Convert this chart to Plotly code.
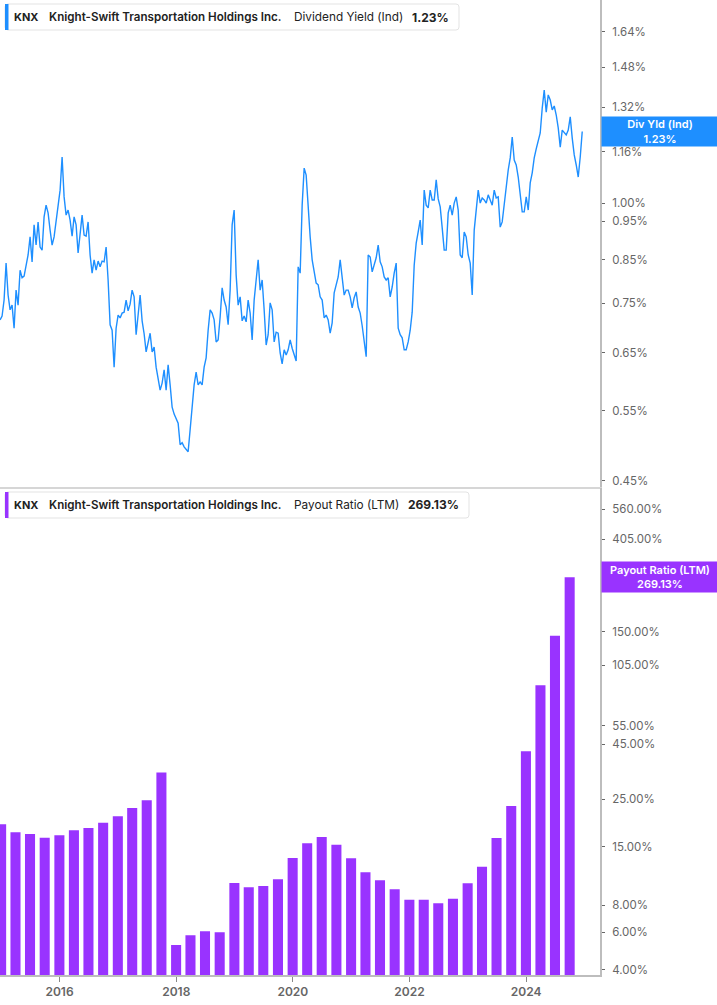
import math
import pandas as pd
import plotly.graph_objects as go

# ---------------- DATA ----------------
ticker = "KNX"
company = "Knight-Swift Transportation Holdings Inc."

# Dividend yield (%), sampled roughly every 12.5 days from late Dec 2014 to Dec 2024
yield_start = "2014-12-24 12:00"
yield_step_days = 12.53
div_yield = [
    0.715, 0.723, 0.757, 0.842, 0.768, 0.736, 0.746, 0.698, 0.779, 0.746,
    0.825, 0.807, 0.811, 0.833, 0.862, 0.908, 0.845, 0.940, 0.887, 0.948,
    0.882, 0.874, 0.962, 0.995, 0.973, 0.926, 0.887, 0.908, 0.948, 1.001,
    1.039, 1.143, 1.019, 0.967, 0.981, 0.953, 0.910, 0.962, 0.940, 0.867,
    0.918, 0.967, 0.913, 0.910, 0.948, 0.862, 0.818, 0.850, 0.825, 0.847,
    0.833, 0.847, 0.845, 0.882, 0.802, 0.705, 0.694, 0.624, 0.698, 0.725,
    0.719, 0.729, 0.731, 0.757, 0.734, 0.748, 0.779, 0.764, 0.685, 0.721,
    0.768, 0.713, 0.687, 0.652, 0.667, 0.688, 0.652, 0.661, 0.624, 0.605,
    0.584, 0.596, 0.619, 0.584, 0.628, 0.593, 0.556, 0.545, 0.539, 0.531,
    0.499, 0.502, 0.496, 0.493, 0.489, 0.521, 0.560, 0.593, 0.615, 0.593,
    0.598, 0.593, 0.624, 0.641, 0.694, 0.736, 0.729, 0.715, 0.671, 0.675,
    0.721, 0.784, 0.757, 0.742, 0.705, 0.779, 0.940, 0.981, 0.814, 0.746,
    0.764, 0.713, 0.723, 0.711, 0.757, 0.729, 0.675, 0.757, 0.802, 0.850,
    0.779, 0.802, 0.736, 0.665, 0.685, 0.751, 0.736, 0.671, 0.690, 0.688,
    0.650, 0.630, 0.656, 0.646, 0.656, 0.675, 0.659, 0.646, 0.635, 0.833,
    0.818, 0.995, 1.107, 1.085, 0.981, 0.908, 0.850, 0.825, 0.795, 0.791,
    0.764, 0.757, 0.719, 0.725, 0.715, 0.688, 0.709, 0.773, 0.793, 0.809,
    0.850, 0.809, 0.768, 0.779, 0.779, 0.764, 0.740, 0.762, 0.775, 0.742,
    0.729, 0.703, 0.675, 0.643, 0.862, 0.857, 0.821, 0.837, 0.855, 0.887,
    0.845, 0.833, 0.809, 0.802, 0.807, 0.764, 0.786, 0.818, 0.842, 0.698,
    0.685, 0.679, 0.656, 0.656, 0.671, 0.694, 0.731, 0.837, 0.892, 0.921,
    0.953, 0.887, 1.039, 0.995, 0.987, 1.039, 1.010, 1.010, 1.070, 1.013,
    0.990, 0.932, 0.874, 0.874, 0.973, 0.995, 0.967, 1.001, 1.019, 0.981,
    0.862, 0.855, 0.921, 0.908, 0.862, 0.842, 0.768, 0.926, 0.981, 1.039,
    1.001, 1.016, 1.010, 1.001, 1.025, 1.010, 0.995, 1.039, 1.016, 1.019,
    0.934, 0.948, 1.001, 1.048, 1.101, 1.140, 1.211, 1.133, 1.117, 1.079,
    1.025, 0.976, 0.976, 1.019, 0.981, 1.061, 1.092, 1.140, 1.170, 1.197,
    1.225, 1.316, 1.386, 1.301, 1.367, 1.347, 1.309, 1.324, 1.290, 1.243,
    1.176, 1.235, 1.228, 1.218, 1.235, 1.283, 1.207, 1.150, 1.117, 1.079,
    1.143, 1.230,
]

# Payout ratio (LTM, %), quarterly (quarter ends) Dec 2014 - Sep 2024
payout_start = "2014-12-31"
payout_ratio = [
    19.06, 17.5, 17.2, 16.5, 16.95, 17.9, 18.3, 19.4, 20.8, 22.7,
    24.7, 33.2, 5.23, 5.80, 6.05, 5.99, 10.16, 9.71, 9.84, 10.57,
    13.3, 15.56, 16.64, 15.33, 13.24, 11.40, 10.46, 9.50, 8.50, 8.50,
    8.18, 8.59, 10.13, 12.1, 16.46, 23.2, 41.7, 84.6, 144.0, 269.13,
]

yield_ticks = [0.45, 0.55, 0.65, 0.75, 0.85, 0.95, 1.00, 1.16, 1.32, 1.48, 1.64]
payout_ticks = [4, 6, 8, 15, 25, 45, 55, 105, 150, 405, 560]
year_ticks = [2016, 2018, 2020, 2022, 2024]

x_range = ["2014-12-24", "2025-04-08"]
yield_range = [0.4418, 1.7967]
payout_range = [3.79, 701.4]

# ---------------- STYLE ----------------
BLUE = "#1e8fff"
PURPLE = "#9933ff"
FONT = "Inter"
W, H = 717, 1005
ML, MR, MT, MB = 0, 117, 0, 30
PW, PH = W - ML - MR, H - MT - MB


def pxx(x):
    return (x - ML) / PW


def pyy(y):
    return (PH - (y - MT)) / PH


def rrect(x0, y0, x1, y1, r):
    X0, X1, Y0, Y1 = pxx(x0), pxx(x1), pyy(y0), pyy(y1)
    rx, ry = r / PW, r / PH
    return (f"M{X0+rx},{Y0} L{X1-rx},{Y0} Q{X1},{Y0} {X1},{Y0-ry} "
            f"L{X1},{Y1+ry} Q{X1},{Y1} {X1-rx},{Y1} L{X0+rx},{Y1} "
            f"Q{X0},{Y1} {X0},{Y1+ry} L{X0},{Y0-ry} Q{X0},{Y0} {X0+rx},{Y0} Z")


yield_dates = pd.date_range(yield_start, periods=len(div_yield),
                            freq=pd.Timedelta(days=yield_step_days))
payout_dates = pd.date_range(payout_start, periods=len(payout_ratio), freq="QE")

fig = go.Figure()
fig.add_trace(go.Scatter(x=yield_dates, y=div_yield, mode="lines",
                         line=dict(color=BLUE, width=1.4),
                         xaxis="x", yaxis="y", showlegend=False))
fig.add_trace(go.Bar(x=payout_dates, y=payout_ratio,
                     marker=dict(color=PURPLE, line=dict(width=0)),
                     xaxis="x2", yaxis="y2", showlegend=False))

top_dom = [pyy(487), 1.0]
bot_dom = [0.0, pyy(488)]

tickfont = dict(family=FONT, size=11.5, color="#666")

fig.update_layout(
    width=W, height=H,
    margin=dict(l=ML, r=MR, t=MT, b=MB, pad=0),
    paper_bgcolor="white", plot_bgcolor="white",
    font=dict(family=FONT, size=12, color="#555"),
    bargap=0.3,
    xaxis=dict(domain=[0, 1], anchor="y", type="date", range=x_range,
               showticklabels=False, showgrid=False, zeroline=False,
               showline=True, linecolor="#d6d6d6", linewidth=1.5, ticks="",
               matches="x2"),
    xaxis2=dict(domain=[0, 1], anchor="y2", type="date", range=x_range,
                showgrid=False, zeroline=False, showline=True,
                linecolor="#bdbdbd", linewidth=2, ticks="outside", ticklen=5,
                tickcolor="#888", tickwidth=1,
                tickvals=[f"{y}-01-01" for y in year_ticks],
                ticktext=[str(y) for y in year_ticks],
                tickfont=dict(family=FONT, size=12, color="#666", weight=600)),
    yaxis=dict(domain=top_dom, anchor="x", type="log", side="right",
               range=[math.log10(v) for v in yield_range],
               showgrid=False, zeroline=False, showline=True,
               linecolor="#bdbdbd", linewidth=2,
               ticks="outside", ticklen=3, tickcolor="#666",
               tickvals=yield_ticks,
               ticktext=[f"{v:.2f}%" for v in yield_ticks],
               tickfont=tickfont, ticklabelstandoff=5),
    yaxis2=dict(domain=bot_dom, anchor="x2", type="log", side="right",
                range=[math.log10(v) for v in payout_range],
                showgrid=False, zeroline=False, showline=True,
                linecolor="#bdbdbd", linewidth=2,
                ticks="outside", ticklen=3, tickcolor="#666",
                tickvals=payout_ticks,
                ticktext=[f"{v:.2f}%" for v in payout_ticks],
                tickfont=tickfont, ticklabelstandoff=5),
)

shapes = []
annotations = []


def legend_box(y0, y1, x1, color, metric):
    shapes.append(dict(type="path", xref="paper", yref="paper",
                       path=rrect(5, y0, x1, y1, 3),
                       fillcolor="white", line=dict(color="#e3e3e3", width=1)))
    shapes.append(dict(type="rect", xref="paper", yref="paper",
                       x0=pxx(5), x1=pxx(8.5), y0=pyy(y1), y1=pyy(y0),
                       fillcolor=color, line=dict(width=0)))
    yc = pyy((y0 + y1) / 2)
    parts = [(12, ticker, 700, 11), (47, company, 600, 11.6), (292, metric, 400, 11.8)]
    for x, t, w, s in parts:
        annotations.append(dict(xref="paper", yref="paper", x=pxx(x), y=yc,
                                xanchor="left", yanchor="middle", showarrow=False,
                                text=t, font=dict(family=FONT, size=s,
                                                  color="#222", weight=w)))
    return yc


yc = legend_box(4, 30, 459, BLUE, "Dividend Yield (Ind)")
annotations.append(dict(xref="paper", yref="paper", x=pxx(410), y=yc,
                        xanchor="left", yanchor="middle", showarrow=False,
                        text=f"{div_yield[-1]:.2f}%",
                        font=dict(family=FONT, size=12, color="#222", weight=700)))
yc = legend_box(492, 518, 469, PURPLE, "Payout Ratio (LTM)")
annotations.append(dict(xref="paper", yref="paper", x=pxx(406), y=yc,
                        xanchor="left", yanchor="middle", showarrow=False,
                        text=f"{payout_ratio[-1]:.2f}%",
                        font=dict(family=FONT, size=12, color="#222", weight=700)))

# value boxes on the right axis
annotations.append(dict(xref="paper", yref="y", x=pxx(601),
                        y=math.log10(div_yield[-1]),
                        xanchor="left", yanchor="middle", showarrow=False,
                        text=f"Div Yld (Ind)<br>{div_yield[-1]:.2f}%",
                        width=116, height=29, bgcolor=BLUE, borderpad=0,
                        font=dict(family=FONT, size=11, color="white", weight=600)))
annotations.append(dict(xref="paper", yref="y2", x=pxx(601),
                        y=math.log10(payout_ratio[-1]),
                        xanchor="left", yanchor="middle", showarrow=False,
                        text=f"Payout Ratio (LTM)<br>{payout_ratio[-1]:.2f}%",
                        width=116, height=30, bgcolor=PURPLE, borderpad=0,
                        font=dict(family=FONT, size=11, color="white", weight=600)))

fig.update_layout(shapes=shapes, annotations=annotations)
fig.write_html("out.html",
               config={"displayModeBar": False},
               post_script="document.body.style.margin='0px';"
                           "document.body.style.overflow='hidden';")
